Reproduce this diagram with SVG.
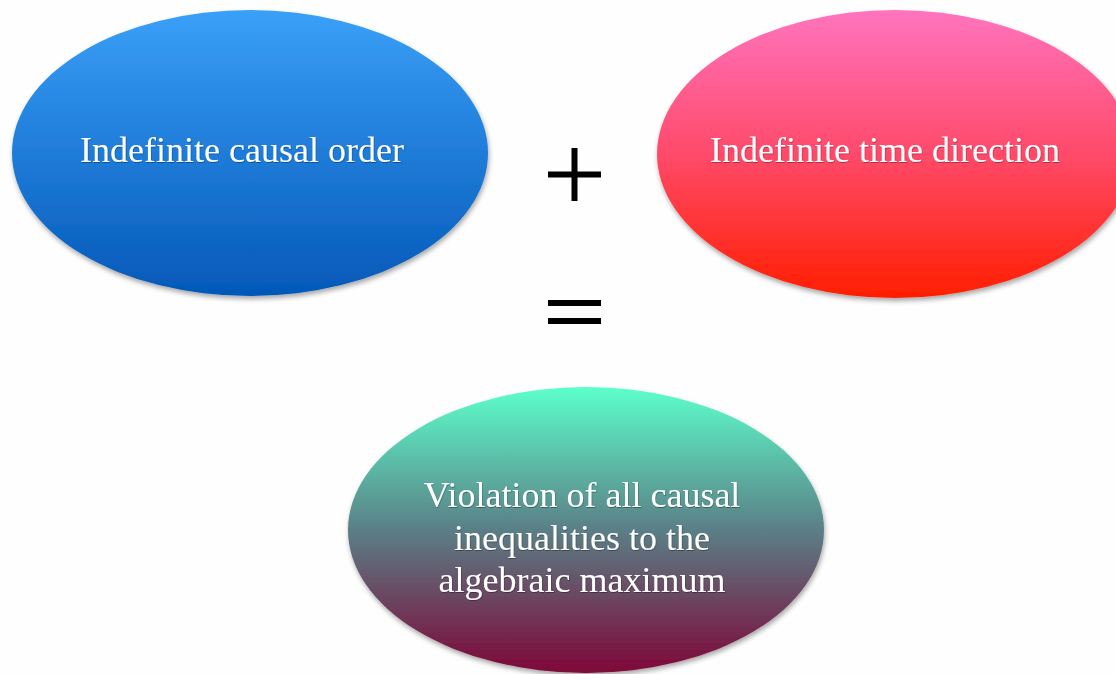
<svg xmlns="http://www.w3.org/2000/svg" width="1116" height="674" viewBox="0 0 1116 674">
  <defs>
    <linearGradient id="gBlue" x1="0" y1="0" x2="0" y2="1">
      <stop offset="0" stop-color="#3aa0f8"/>
      <stop offset="1" stop-color="#0458b8"/>
    </linearGradient>
    <linearGradient id="gRed" x1="0" y1="0" x2="0" y2="1">
      <stop offset="0" stop-color="#ff74bd"/>
      <stop offset="0.5" stop-color="#ff4a6a"/>
      <stop offset="1" stop-color="#ff1e00"/>
    </linearGradient>
    <linearGradient id="gGreen" x1="0" y1="0" x2="0" y2="1">
      <stop offset="0" stop-color="#5cffcc"/>
      <stop offset="0.5" stop-color="#5a7f86"/>
      <stop offset="1" stop-color="#7e0638"/>
    </linearGradient>
    <filter id="shadow" x="-10%" y="-10%" width="120%" height="125%">
      <feDropShadow dx="1" dy="3" stdDeviation="2.5" flood-color="#000" flood-opacity="0.35"/>
    </filter>
    <filter id="tshadow" x="-5%" y="-20%" width="110%" height="140%">
      <feDropShadow dx="0.5" dy="1" stdDeviation="0.6" flood-color="#000" flood-opacity="0.35"/>
    </filter>
  </defs>
  <style>
    .label { font-family: "Liberation Serif", "DejaVu Serif", serif; font-size: 36px; fill: #ffffff; text-anchor: middle; filter: url(#tshadow); }
    .op { stroke: #000; stroke-width: 6; fill: none; }
  </style>
  <rect width="1116" height="674" fill="#fdfefd"/>

  <g id="node-causal-order">
    <ellipse cx="250" cy="153" rx="238" ry="143" fill="url(#gBlue)" filter="url(#shadow)"/>
    <text class="label" x="242" y="162">Indefinite causal order</text>
  </g>

  <g id="node-time-direction">
    <ellipse cx="895" cy="154" rx="238" ry="144" fill="url(#gRed)" filter="url(#shadow)"/>
    <text class="label" x="885" y="162">Indefinite time direction</text>
  </g>

  <g id="node-violation">
    <ellipse cx="586" cy="530" rx="238" ry="143" fill="url(#gGreen)" filter="url(#shadow)"/>
    <text class="label" x="582" y="507">Violation of all causal</text>
    <text class="label" x="582" y="550">inequalities to the</text>
    <text class="label" x="582" y="592">algebraic maximum</text>
  </g>

  <g id="connectors">
    <!-- plus sign -->
    <path class="op" d="M574.5 148 V201 M548 174.5 H601"/>
    <!-- equals sign -->
    <path class="op" d="M548 303 H601 M548 321 H601"/>
  </g>
</svg>
